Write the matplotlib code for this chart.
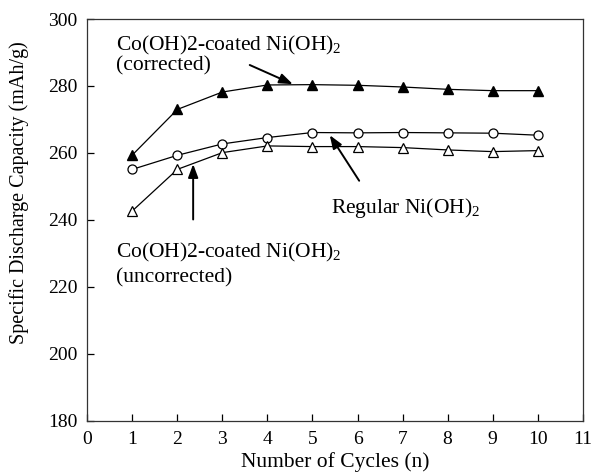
import numpy as np
import matplotlib
matplotlib.use('Agg')
import matplotlib.pyplot as plt

plt.rcParams['font.family'] = ['Liberation Serif', 'DejaVu Serif']
plt.rcParams['mathtext.fontset'] = 'custom'
plt.rcParams['mathtext.rm'] = 'Liberation Serif'

cycles = [1, 2, 3, 4, 5, 6, 7, 8, 9, 10]
coated_corrected = [259.4, 273.0, 278.2, 280.3, 280.4, 280.2, 279.7, 279.0, 278.6, 278.6]
regular = [255.1, 259.3, 262.7, 264.6, 266.1, 266.0, 266.1, 266.0, 265.9, 265.3]
coated_uncorrected = [242.7, 255.1, 260.1, 262.1, 261.9, 261.9, 261.6, 260.9, 260.4, 260.7]

fig = plt.figure(figsize=(5.94, 4.75), dpi=100)
ax = fig.add_axes([0.147, 0.114, 0.834, 0.846])

ax.plot(cycles, coated_corrected, color='black', lw=0.9, marker='^', ms=6.5,
        mfc='black', mec='black')
ax.plot(cycles, regular, color='black', lw=0.9, marker='o', ms=6.5,
        mfc='white', mec='black', mew=0.9)
ax.plot(cycles, coated_uncorrected, color='black', lw=0.9, marker='^', ms=6.5,
        mfc='white', mec='black', mew=0.9)

arr = dict(arrowstyle='-|>,head_length=0.8,head_width=0.3', color='black', lw=1.4)
ax.annotate('', xy=(4.62, 280.2), xytext=(3.55, 286.6), arrowprops=arr)
ax.annotate('', xy=(5.35, 266.0), xytext=(6.07, 251.0), arrowprops=arr)
ax.annotate('', xy=(2.35, 257.5), xytext=(2.35, 239.3), arrowprops=arr)

fs = 15.5
ax.text(0.63, 290.7, r'Co(OH)2-coated Ni(OH)$_2$', fontsize=fs, va='baseline')
ax.text(0.63, 284.7, '(corrected)', fontsize=fs, va='baseline')
ax.text(5.42, 242.1, r'Regular Ni(OH)$_2$', fontsize=fs, va='baseline')
ax.text(0.63, 228.9, r'Co(OH)2-coated Ni(OH)$_2$', fontsize=fs, va='baseline')
ax.text(0.63, 221.4, '(uncorrected)', fontsize=fs, va='baseline')

ax.set_xlim(0, 11)
ax.set_ylim(180, 300)
ax.set_xticks(range(0, 12))
ax.set_yticks(range(180, 301, 20))
ax.tick_params(direction='in', length=5, width=0.9, labelsize=14, pad=7,
               top=False, right=False)
for s in ax.spines.values():
    s.set_linewidth(0.9)
    s.set_color('#333333')
ax.set_xlabel('Number of Cycles (n)', fontsize=15.5, labelpad=3)
ax.set_ylabel('Specific Discharge Capacity (mAh/g)', fontsize=14.5)
ax.yaxis.set_label_coords(-0.118, 0.567)

fig.savefig('out.png', dpi=100)
